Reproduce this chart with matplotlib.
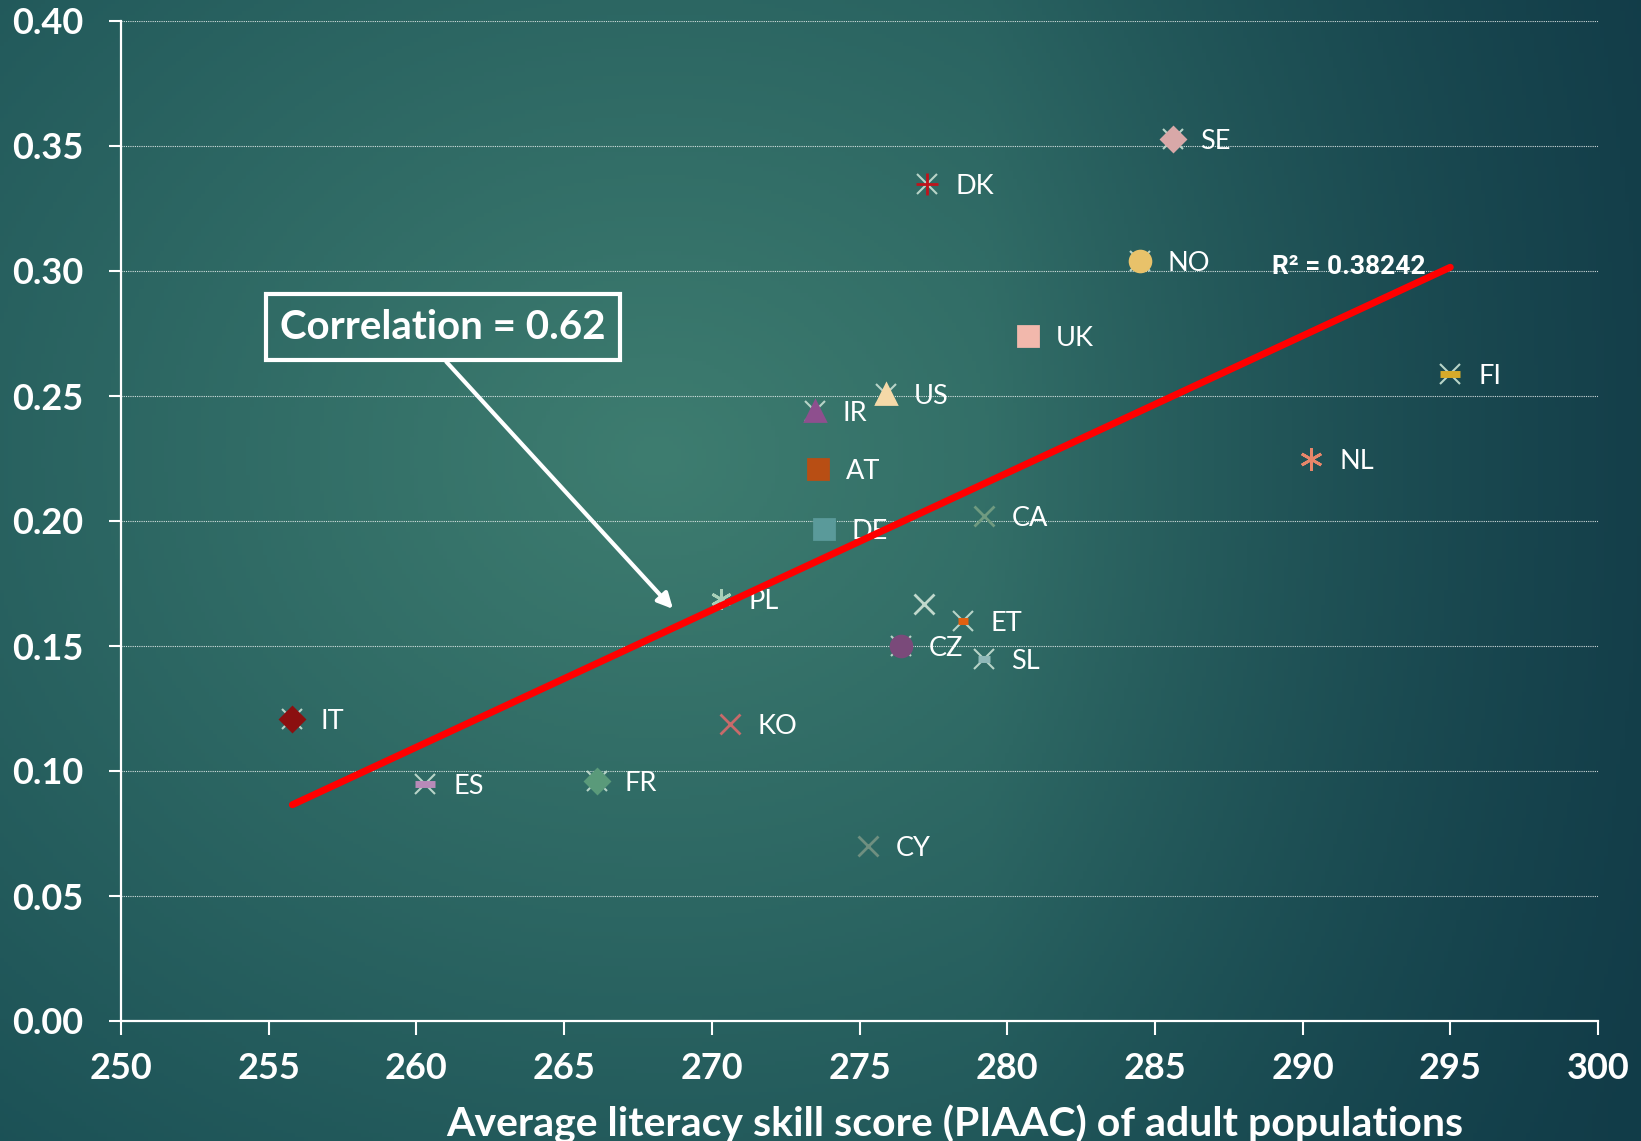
import numpy as np
import matplotlib
matplotlib.use("Agg")
import matplotlib.pyplot as plt

# data
countries = ["SE", "DK", "NO", "UK", "FI", "US", "IR", "NL", "AT", "CA", "DE",
             "PL", "", "ET", "CZ", "SL", "IT", "KO", "ES", "FR", "CY"]
literacy = [285.6, 277.3, 284.5, 280.7, 295.0, 275.9, 273.5, 290.3, 273.6, 279.2, 273.8,
            270.3, 277.2, 278.5, 276.4, 279.2, 255.8, 270.6, 260.3, 266.1, 275.3]
share = [0.353, 0.335, 0.304, 0.274, 0.259, 0.251, 0.244, 0.225, 0.221, 0.202, 0.197,
         0.169, 0.167, 0.160, 0.150, 0.145, 0.121, 0.119, 0.095, 0.096, 0.070]

trend_x = [255.8, 295.0]
trend_y = [0.0865, 0.3015]
r2_text = "R² = 0.38242"
corr_text = "Correlation = 0.62"
xlabel = "Average literacy skill score (PIAAC) of adult populations"

# marker styles (Excel-like: grey cross behind + coloured marker)
styles = {
    "SE": ("D", "#d8a8a8", 12, True),
    "DK": ("+", "#c0141c", 16, True),
    "NO": ("o", "#e8c26a", 15, True),
    "UK": ("s", "#f2b8ac", 15, False),
    "FI": ("_", "#d6aa2a", 15, True),
    "US": ("^", "#f5d9a8", 15, True),
    "IR": ("^", "#8e4f8e", 15, True),
    "NL": ((6, 2, 0), "#e8866a", 16, False),
    "AT": ("s", "#b84e14", 15, False),
    "CA": ("x", "#6f9a80", 15, False),
    "DE": ("s", "#5a9a9a", 15, False),
    "PL": ((6, 2, 0), "#a8d0b8", 15, False),
    "": ("x", "#c0d8cc", 15, False),
    "ET": ("_", "#e06010", 7, True),
    "CZ": ("o", "#7a4a7a", 15, True),
    "SL": ("_", "#90b8b8", 8, True),
    "IT": ("D", "#8b1010", 12, True),
    "KO": ("x", "#c86a6a", 15, False),
    "ES": ("_", "#b88ab8", 15, True),
    "FR": ("D", "#5a9a7a", 12, True),
    "CY": ("x", "#6f8f80", 15, False),
}

W, H = 1641, 1141
fig = plt.figure(figsize=(W / 100, H / 100), dpi=100)

# background gradient
bg = fig.add_axes([0, 0, 1, 1], zorder=-10)
gx, gy = np.meshgrid(np.linspace(0, 1, 400), np.linspace(0, 1, 300))
t = np.clip(np.sqrt(((gx - 0.40) / 0.75) ** 2 + ((gy - 0.40) / 0.9) ** 2), 0, 1)
light = np.array([62, 125, 112]) / 255
dark = np.array([22, 74, 82]) / 255
far = np.array([16, 54, 68]) / 255
img = light * (1 - t[..., None]) + dark * t[..., None]
s = np.clip((gx - 0.6) / 0.4, 0, 1)[..., None] * 0.7
img = img * (1 - s) + far * s
bg.imshow(img, aspect="auto", extent=[0, 1, 1, 0])
bg.axis("off")

ax = fig.add_axes([121 / W, 1 - 1021 / H, (1598 - 121) / W, 1000 / H])
ax.set_facecolor("none")
ax.set_xlim(250, 300)
ax.set_ylim(0, 0.40)
ax.set_xticks(np.arange(250, 301, 5))
ax.set_yticks(np.arange(0, 0.401, 0.05))
ax.set_yticklabels([f"{v:.2f}" for v in np.arange(0, 0.401, 0.05)])

for sp in ["top", "right"]:
    ax.spines[sp].set_visible(False)
for sp in ["left", "bottom"]:
    ax.spines[sp].set_color("white")
    ax.spines[sp].set_linewidth(1.6)

ax.tick_params(axis="both", colors="white", width=1.5)
ax.tick_params(axis="y", length=9, pad=18)
ax.tick_params(axis="x", length=10, pad=12)
for lab in ax.get_xticklabels() + ax.get_yticklabels():
    lab.set_fontfamily("Lato")
    lab.set_fontweight("bold")
    lab.set_fontsize(26)
    lab.set_color("white")

ax.yaxis.grid(True, color="white", linestyle=(0, (1, 1)), linewidth=0.8, alpha=0.8)
ax.set_axisbelow(True)

# points
for name, xv, yv in zip(countries, literacy, share):
    mk, col, ms, cross = styles[name]
    if cross:
        ax.plot(xv, yv, marker="x", ms=14, mew=1.5, color="#b8d4c8", zorder=3)
    mew = 5 if mk == "_" else 2
    ax.plot(xv, yv, marker=mk, ms=ms, mew=mew, color=col, zorder=4,
            markeredgecolor=col, linestyle="none")
    if name:
        ax.annotate(name, (xv, yv), xytext=(20, -2), textcoords="offset points",
                    ha="left", va="center", color="white", fontsize=19.5,
                    fontfamily="Lato", zorder=5)

# trend line
ax.plot(trend_x, trend_y, color="#ff0000", lw=5, solid_capstyle="round", zorder=6)
ax.text(288.95, 0.3014, r2_text, color="white", fontsize=19, fontweight="bold",
        fontfamily="Roboto", ha="left", va="center", zorder=7)

# correlation callout
ax.annotate("", xy=(268.75, 0.164), xytext=(260.95, 0.2645),
            arrowprops=dict(arrowstyle="-|>,head_length=0.9,head_width=0.45",
                            color="white", lw=3), zorder=7)
ax.text(260.9, 0.2775, corr_text, color="white", fontsize=29, fontweight="bold",
        fontfamily="Lato", ha="center", va="center", zorder=8,
        bbox=dict(boxstyle="square,pad=0.36", facecolor="none",
                  edgecolor="white", linewidth=3))

fig.text(955 / W, 5 / H, xlabel, color="white", fontsize=29.5, fontweight="bold",
         fontfamily="Lato", ha="center", va="baseline")

fig.savefig("out.png", dpi=100)
